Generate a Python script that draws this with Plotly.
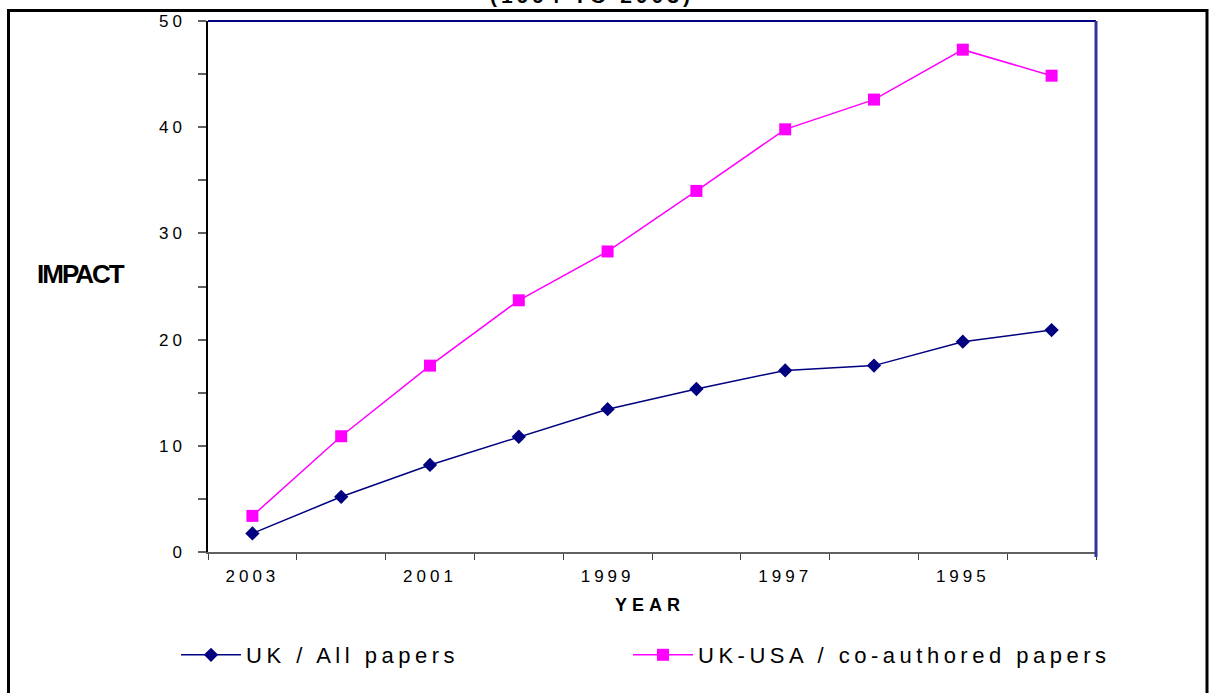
import plotly.graph_objects as go

years = ["2003", "2002", "2001", "2000", "1999", "1998", "1997", "1996", "1995", "1994"]
uk_all = [1.75, 5.2, 8.2, 10.85, 13.45, 15.35, 17.1, 17.55, 19.8, 20.9]
uk_usa = [3.4, 10.9, 17.55, 23.7, 28.3, 34.0, 39.8, 42.6, 47.3, 44.85]
year_labels = [y if i % 2 == 0 else "" for i, y in enumerate(years)]
y_ticks = [0, 10, 20, 30, 40, 50]

FONT = "Liberation Sans, Arial, sans-serif"
NAVY = "#000080"
MAGENTA = "#FF00FF"

fig = go.Figure()
fig.add_trace(go.Scatter(
    x=years, y=uk_all, name="UK / All papers", mode="lines+markers",
    line=dict(color=NAVY, width=1.5),
    marker=dict(symbol="diamond", size=11, color=NAVY),
))
fig.add_trace(go.Scatter(
    x=years, y=uk_usa, name="UK-USA / co-authored papers", mode="lines+markers",
    line=dict(color=MAGENTA, width=1.5),
    marker=dict(symbol="square", size=12, color=MAGENTA),
))

W, H = 1209, 693
L, R, T, B = 208, 113, 21, 141
PW, PH = W - L - R, H - T - B

def px(xp):
    return (xp - L) / PW

def py(yp):
    return (H - B - yp) / PH

fig.update_layout(
    width=W, height=H,
    margin=dict(l=L, r=R, t=T, b=B, pad=0),
    paper_bgcolor="white", plot_bgcolor="white",
    font=dict(family=FONT, color="black", size=16),
    showlegend=True,
    legend=dict(
        orientation="h", x=px(176), y=py(655), xanchor="left", yanchor="middle",
        font=dict(family=FONT, size=22, color="black"),
        entrywidth=377, itemwidth=60, bgcolor="rgba(0,0,0,0)",
    ),
    xaxis=dict(
        type="category", range=[-0.5, 9.5],
        tickvals=years, ticktext=year_labels, tickson="boundaries",
        ticks="outside", ticklen=6, tickcolor="#404040", tickwidth=1,
        showline=True, linecolor="#606060", linewidth=2,
        showgrid=False, zeroline=False,
        tickfont=dict(family=FONT, size=17, color="black"),
        ticklabelstandoff=8,
    ),
    yaxis=dict(
        range=[0, 50], tickvals=y_ticks,
        ticks="outside", ticklen=8, tickcolor="#606060", tickwidth=1.5,
        minor=dict(ticks="outside", dtick=5, ticklen=8, tickcolor="#606060", tickwidth=1.5),
        showline=True, linecolor="black", linewidth=1.5,
        showgrid=False, zeroline=False,
        tickfont=dict(family=FONT, size=17, color="black"),
        ticklabelstandoff=9,
    ),
    shapes=[
        dict(type="rect", xref="paper", yref="paper",
             x0=px(8.5), x1=px(1207), y0=py(760), y1=py(10.5),
             line=dict(color="black", width=3), fillcolor="rgba(0,0,0,0)", layer="below"),
        dict(type="line", xref="paper", yref="paper", x0=0, x1=1, y0=1, y1=1,
             line=dict(color=NAVY, width=2)),
        dict(type="line", xref="paper", yref="paper", x0=1, x1=1, y0=py(557), y1=1,
             line=dict(color="#333399", width=3)),
    ],
    annotations=[
        dict(text="<b>(1994 TO 2003)</b>", xref="paper", yref="paper",
             x=px(592), y=py(9), xanchor="center", yanchor="bottom", showarrow=False,
             font=dict(family=FONT, size=21, color="black")),
        dict(text="<b>YEAR</b>", xref="paper", yref="paper",
             x=px(650), y=py(605), xanchor="center", yanchor="middle", showarrow=False,
             font=dict(family=FONT, size=18, color="black")),
        dict(text="<b>IMPACT</b>", xref="paper", yref="paper",
             x=px(80), y=py(274), xanchor="center", yanchor="middle", showarrow=False,
             font=dict(family=FONT, size=26, color="black")),
    ],
)

post = (
    "document.body.style.margin='0';"
    "var s=document.createElement('style');"
    "s.textContent='body{margin:0}.xtick text,.ytick text{letter-spacing:4px}"
    ".legendtext{letter-spacing:4.5px}"
    ".legend .scrollbox{clip-path:none !important}"
    ".annotation[data-index=\"0\"] text{letter-spacing:4px}"
    ".annotation[data-index=\"1\"] text{letter-spacing:5px}"
    ".annotation[data-index=\"2\"] text{letter-spacing:-2px}';"
    "document.head.appendChild(s);"
)

fig.write_html("out.html", post_script=post, config={"displayModeBar": False})
